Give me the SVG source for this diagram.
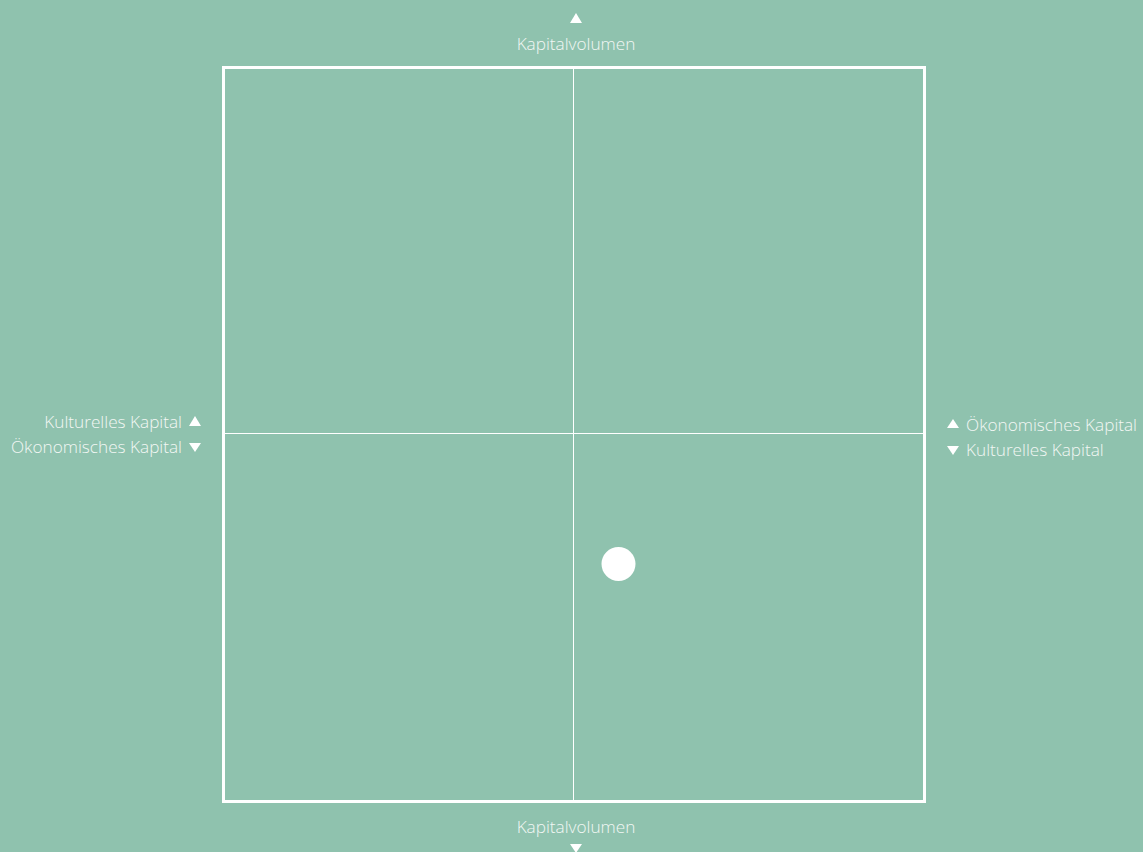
<svg xmlns="http://www.w3.org/2000/svg" width="1143" height="852" viewBox="0 0 1143 852">
<style>
.lbl{font-family:"Open Sans","Liberation Sans",sans-serif;font-weight:300;font-size:17.2px;fill:#f2f7f4}
.tri{fill:#ffffff}
.grid{stroke:#ffffff;fill:none}
</style>
<rect width="1143" height="852" fill="#8fc2ae"/>
<g id="frame">
<rect class="grid" x="223.5" y="67.5" width="701" height="734" stroke-width="3"/>
<line class="grid" x1="573.5" y1="67" x2="573.5" y2="802" stroke-width="1"/>
<line class="grid" x1="223" y1="433.5" x2="925" y2="433.5" stroke-width="1"/>
</g>
<g id="top-label">
<polygon class="tri" points="576,13 582,23 570,23"/>
<text class="lbl" x="576" y="50" text-anchor="middle">Kapitalvolumen</text>
</g>
<g id="bottom-label">
<text class="lbl" x="576" y="833" text-anchor="middle">Kapitalvolumen</text>
<polygon class="tri" points="570,844 582,844 576,853"/>
</g>
<g id="left-label">
<text class="lbl" x="182" y="428" text-anchor="end">Kulturelles Kapital</text>
<polygon class="tri" points="195,416 201,426 189,426"/>
<text class="lbl" x="182" y="453" text-anchor="end">Ökonomisches Kapital</text>
<polygon class="tri" points="189,443 201,443 195,452"/>
</g>
<g id="right-label">
<polygon class="tri" points="953,419 959,428 947,428"/>
<text class="lbl" x="966" y="431">Ökonomisches Kapital</text>
<polygon class="tri" points="947,446 959,446 953,455"/>
<text class="lbl" x="966" y="456">Kulturelles Kapital</text>
</g>
<g id="point">
<circle cx="618.5" cy="564" r="17" fill="#ffffff"/>
</g>
</svg>
